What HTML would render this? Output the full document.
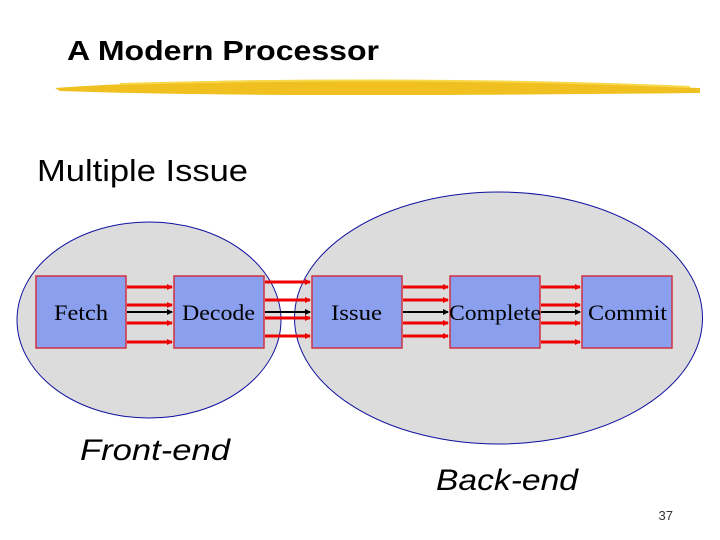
<!DOCTYPE html>
<html><head><style>body{margin:0;background:#fff}svg{display:block}</style></head><body>
<svg width="720" height="540" viewBox="0 0 720 540" xmlns="http://www.w3.org/2000/svg">
<defs>
<marker id="r" markerWidth="6" markerHeight="6" refX="5" refY="3" orient="auto" markerUnits="userSpaceOnUse"><path d="M0,0L6,3L0,6z" fill="#e00"/></marker>
<marker id="k" markerWidth="6" markerHeight="6" refX="5" refY="3" orient="auto" markerUnits="userSpaceOnUse"><path d="M0,0L6,3L0,6z" fill="#000"/></marker>
</defs>
<text x="67" y="60" font-family="Liberation Sans, sans-serif" font-size="28" font-weight="bold" textLength="312" lengthAdjust="spacingAndGlyphs" fill="#000">A Modern Processor</text>
<path d="M55,88 C200,78 400,76 700,88 L700,93 C400,96 200,96 60,91 Z" fill="#f0c020"/>
<path d="M120,84 C300,79 500,79 690,87" stroke="#f7d84a" stroke-width="2" fill="none"/>
<text x="37" y="181" font-family="Liberation Sans, sans-serif" font-size="31" textLength="211" lengthAdjust="spacingAndGlyphs" fill="#000">Multiple Issue</text>
<ellipse cx="149" cy="320" rx="132" ry="98" fill="#dcdcdc" stroke="#1010a0" stroke-width="1"/>
<ellipse cx="498.5" cy="318" rx="204" ry="126" fill="#dcdcdc" stroke="#1010a0" stroke-width="1"/>
<g fill="#8aa0ee" stroke="#d03040" stroke-width="1.5">
<rect x="36" y="276" width="90" height="72"/>
<rect x="174" y="276" width="90" height="72"/>
<rect x="312" y="276" width="90" height="72"/>
<rect x="450" y="276" width="90" height="72"/>
<rect x="582" y="276" width="90" height="72"/>
</g>
<g stroke="#e00" stroke-width="3" marker-end="url(#r)">
<line x1="127" y1="287" x2="172" y2="287"/><line x1="127" y1="305" x2="172" y2="305"/><line x1="127" y1="323" x2="172" y2="323"/><line x1="127" y1="342" x2="172" y2="342"/>
<line x1="265" y1="282" x2="310" y2="282"/><line x1="265" y1="300" x2="310" y2="300"/><line x1="265" y1="318" x2="310" y2="318"/><line x1="265" y1="336" x2="310" y2="336"/>
<line x1="403" y1="287" x2="448" y2="287"/><line x1="403" y1="300" x2="448" y2="300"/><line x1="403" y1="323" x2="448" y2="323"/><line x1="403" y1="336" x2="448" y2="336"/>
<line x1="541" y1="287" x2="580" y2="287"/><line x1="541" y1="305" x2="580" y2="305"/><line x1="541" y1="323" x2="580" y2="323"/><line x1="541" y1="342" x2="580" y2="342"/>
</g>
<g stroke="#000" stroke-width="2" marker-end="url(#k)">
<line x1="127" y1="312" x2="172" y2="312"/><line x1="265" y1="312" x2="310" y2="312"/><line x1="403" y1="312" x2="448" y2="312"/><line x1="541" y1="312" x2="580" y2="312"/>
</g>
<g font-family="Liberation Serif, serif" font-size="22" fill="#000">
<text x="54" y="320" textLength="54" lengthAdjust="spacingAndGlyphs">Fetch</text>
<text x="182" y="320" textLength="73" lengthAdjust="spacingAndGlyphs">Decode</text>
<text x="331" y="320" textLength="51" lengthAdjust="spacingAndGlyphs">Issue</text>
<text x="449" y="320" textLength="92" lengthAdjust="spacingAndGlyphs">Complete</text>
<text x="588" y="320" textLength="79" lengthAdjust="spacingAndGlyphs">Commit</text>
</g>
<text x="80" y="460" font-family="Liberation Sans, sans-serif" font-size="30" font-style="italic" textLength="150" lengthAdjust="spacingAndGlyphs">Front-end</text>
<text x="436" y="490" font-family="Liberation Sans, sans-serif" font-size="30" font-style="italic" textLength="142" lengthAdjust="spacingAndGlyphs">Back-end</text>
<text x="673" y="520" font-family="Liberation Sans, sans-serif" font-size="13" text-anchor="end" fill="#333">37</text>
</svg>
</body></html>
